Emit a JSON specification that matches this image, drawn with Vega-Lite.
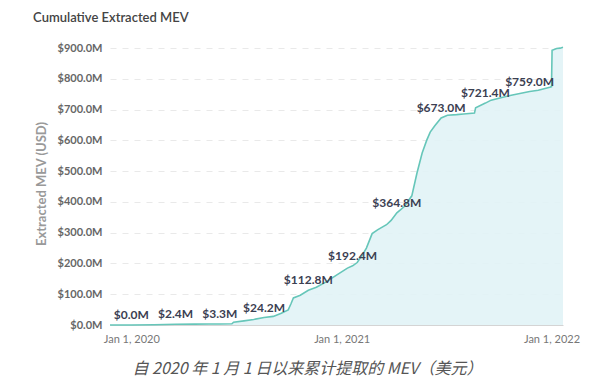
{
  "$schema": "https://vega.github.io/schema/vega-lite/v6.json",
  "width": 453,
  "height": 283,
  "autosize": "none",
  "padding": {"left": 110, "top": 42, "right": 37, "bottom": 59},
  "background": "white",
  "config": {"font": "Lato", "view": {"stroke": null}},
  "title": {
    "text": "Cumulative Extracted MEV",
    "anchor": "start",
    "dx": -2,
    "offset": 17,
    "fontSize": 13,
    "font": "Lato",
    "fontWeight": 600,
    "color": "#444444"
  },
  "datasets": {
    "curve": [
      {"date": "2019-11-25", "mev": 0},
      {"date": "2019-12-20", "mev": 0},
      {"date": "2020-01-01", "mev": 0},
      {"date": "2020-02-10", "mev": 0.8},
      {"date": "2020-03-18", "mev": 2.4},
      {"date": "2020-04-20", "mev": 2.8},
      {"date": "2020-05-15", "mev": 3.1},
      {"date": "2020-06-03", "mev": 3.3},
      {"date": "2020-06-24", "mev": 4.0},
      {"date": "2020-06-27", "mev": 9.0},
      {"date": "2020-07-15", "mev": 13.5},
      {"date": "2020-08-01", "mev": 18},
      {"date": "2020-08-19", "mev": 24.2},
      {"date": "2020-09-04", "mev": 28},
      {"date": "2020-09-18", "mev": 38},
      {"date": "2020-09-30", "mev": 49},
      {"date": "2020-10-05", "mev": 70},
      {"date": "2020-10-09", "mev": 88},
      {"date": "2020-10-21", "mev": 97},
      {"date": "2020-11-04", "mev": 112.8},
      {"date": "2020-11-18", "mev": 123},
      {"date": "2020-12-05", "mev": 140},
      {"date": "2020-12-23", "mev": 162},
      {"date": "2021-01-11", "mev": 185},
      {"date": "2021-01-20", "mev": 192.4},
      {"date": "2021-01-28", "mev": 203},
      {"date": "2021-02-05", "mev": 225},
      {"date": "2021-02-13", "mev": 250},
      {"date": "2021-02-23", "mev": 297},
      {"date": "2021-03-05", "mev": 310},
      {"date": "2021-03-20", "mev": 326},
      {"date": "2021-03-28", "mev": 340},
      {"date": "2021-04-07", "mev": 364.8},
      {"date": "2021-04-20", "mev": 385},
      {"date": "2021-05-03", "mev": 420},
      {"date": "2021-05-12", "mev": 494},
      {"date": "2021-05-21", "mev": 559},
      {"date": "2021-05-29", "mev": 601},
      {"date": "2021-06-04", "mev": 627},
      {"date": "2021-06-12", "mev": 648},
      {"date": "2021-06-23", "mev": 673},
      {"date": "2021-07-04", "mev": 682},
      {"date": "2021-07-20", "mev": 684},
      {"date": "2021-08-01", "mev": 686},
      {"date": "2021-08-20", "mev": 689},
      {"date": "2021-08-22", "mev": 706},
      {"date": "2021-09-08", "mev": 721.4},
      {"date": "2021-09-18", "mev": 731},
      {"date": "2021-10-05", "mev": 739},
      {"date": "2021-10-23", "mev": 747},
      {"date": "2021-11-24", "mev": 759},
      {"date": "2021-12-09", "mev": 763},
      {"date": "2021-12-29", "mev": 773},
      {"date": "2022-01-01", "mev": 775},
      {"date": "2022-01-02", "mev": 893},
      {"date": "2022-01-10", "mev": 899},
      {"date": "2022-01-16", "mev": 900},
      {"date": "2022-01-21", "mev": 903}
    ],
    "labels": [
      {"date": "2020-01-01", "mev": 0, "label": "$0.0M"},
      {"date": "2020-03-18", "mev": 2.4, "label": "$2.4M"},
      {"date": "2020-06-03", "mev": 3.3, "label": "$3.3M"},
      {"date": "2020-08-19", "mev": 24.2, "label": "$24.2M"},
      {"date": "2020-11-04", "mev": 112.8, "label": "$112.8M"},
      {"date": "2021-01-20", "mev": 192.4, "label": "$192.4M"},
      {"date": "2021-04-07", "mev": 364.8, "label": "$364.8M"},
      {"date": "2021-06-23", "mev": 673.0, "label": "$673.0M"},
      {"date": "2021-09-08", "mev": 721.4, "label": "$721.4M"},
      {"date": "2021-11-24", "mev": 759.0, "label": "$759.0M"}
    ]
  },
  "encoding": {
    "x": {
      "field": "date",
      "type": "temporal",
      "scale": {
        "type": "utc",
        "domain": [
          {"year": 2019, "month": 11, "date": 25, "utc": true},
          {"year": 2022, "month": 1, "date": 21, "utc": true}
        ]
      },
      "axis": {
        "values": [
          {"year": 2020, "month": 1, "date": 1, "utc": true},
          {"year": 2021, "month": 1, "date": 1, "utc": true},
          {"year": 2022, "month": 1, "date": 1, "utc": true}
        ],
        "format": "%b %-d, %Y",
        "labelFlush": false,
        "labelOverlap": false,
        "labelBound": false,
        "labelColor": "#777777",
        "labelFontSize": 11,
        "labelPadding": 8,
        "ticks": false,
        "grid": false,
        "domain": true,
        "domainColor": "#d4d4d4",
        "title": "自 2020 年 1 月 1 日以来累计提取的 MEV（美元）",
        "titleFont": "Noto Sans CJK SC",
        "titleFontStyle": "italic",
        "titleFontWeight": "normal",
        "titleFontSize": 16,
        "titleColor": "#555555",
        "titleX": 197,
        "titleY": 43,
        "titleAlign": "center",
        "titleBaseline": "middle"
      }
    },
    "y": {
      "field": "mev",
      "type": "quantitative",
      "scale": {"domain": [0, 920], "nice": false},
      "axis": {
        "values": [0, 100, 200, 300, 400, 500, 600, 700, 800, 900],
        "labelExpr": "'$' + format(datum.value, '.1f') + 'M'",
        "labelColor": "#666666",
        "labelFontSize": 11,
        "labelFontWeight": "bold",
        "labelPadding": 8,
        "ticks": false,
        "domain": false,
        "grid": true,
        "gridColor": "#e9e9e9",
        "gridDash": [6, 6],
        "title": "Extracted MEV (USD)",
        "titleColor": "#999999",
        "titleFontSize": 13,
        "titleFontWeight": "bold",
        "titlePadding": 9
      }
    }
  },
  "layer": [
    {
      "data": {"name": "curve"},
      "mark": {"type": "area", "color": "#e1f3f6", "opacity": 0.9}
    },
    {
      "data": {"name": "curve"},
      "mark": {"type": "line", "color": "#66c6b9", "strokeWidth": 1.6}
    },
    {
      "data": {"name": "labels"},
      "mark": {
        "type": "text",
        "fontSize": 12,
        "fontWeight": "bold",
        "color": "#3b4052",
        "align": "center",
        "baseline": "middle",
        "dy": -10
      },
      "encoding": {"text": {"field": "label"}}
    }
  ]
}
